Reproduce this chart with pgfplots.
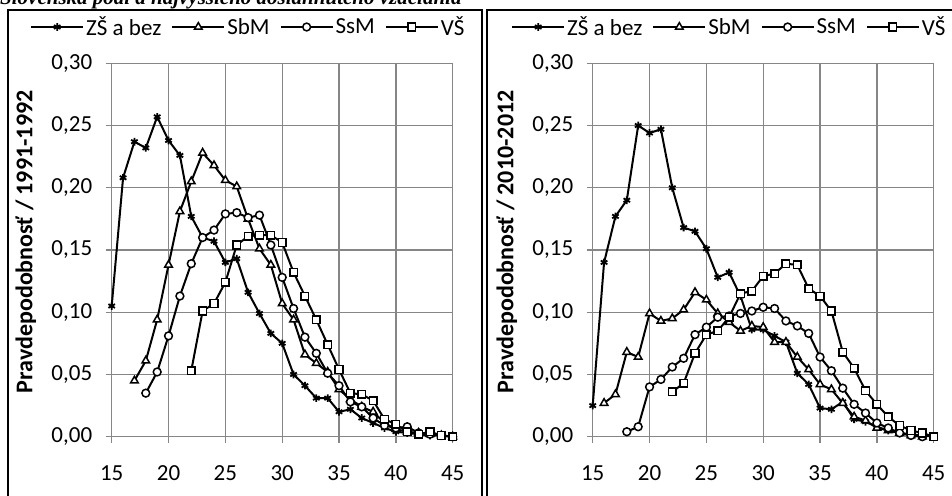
\documentclass[border=0pt]{standalone}
\usepackage{fontspec}
\setmainfont{Carlito}
\newfontfamily\titlefont{Liberation Serif}
\usepackage{pgfplots}
\pgfplotsset{compat=1.18}
\definecolor{gridc}{RGB}{134,134,134}
\pgfplotsset{
  panel/.style={
    scale only axis, width=341pt, height=373.4pt,
    xmin=15, xmax=45, ymin=0, ymax=0.3,
    xtick={15,20,25,30,35,40,45},
    ytick={0,0.05,0.1,0.15,0.2,0.25,0.3},
    clip=false,
    grid=major, major grid style={gridc, line width=1.3pt},
    axis x line*=bottom, axis y line*=left,
    axis line style={gridc, line width=1.3pt},
    tick style={gridc, line width=1.3pt},
    tick align=outside, major tick length=6pt,
    /pgf/number format/assume math mode=true,
    yticklabel style={/pgf/number format/.cd, use comma, fixed, fixed zerofill, precision=2, /tikz/.cd, font=\fontsize{23}{25}\selectfont, xshift=-10pt},
    xticklabel style={font=\fontsize{23}{25}\selectfont, yshift=-19pt},
    ylabel style={font=\bfseries\fontsize{24}{26}\selectfont, at={(axis description cs:-0.252,0.522)}, anchor=center},
    legend style={draw=none, fill=none, legend columns=4, at={(axis description cs:-0.2396,1.0972)}, anchor=west, inner sep=0pt, font=\fontsize{23}{25}\selectfont, /tikz/every even column/.append style={column sep=8pt}},
    legend image code/.code={\draw[mark repeat=2,mark phase=2,#1] plot coordinates {(0pt,0pt) (26pt,0pt) (52pt,0pt)};},
  },
  zs/.style={black, line width=2pt, mark=asterisk, mark size=3.8pt, mark options={solid, line width=1.8pt}},
  sb/.style={black, line width=2pt, mark=triangle*, mark size=4.4pt, mark options={solid, fill=white, line width=1.5pt}},
  ss/.style={black, line width=2pt, mark=*, mark size=3.9pt, mark options={solid, fill=white, line width=1.5pt}},
  vs/.style={black, line width=2pt, mark=square*, mark size=3.8pt, mark options={solid, fill=white, line width=1.5pt}},
}
\begin{document}
\begin{tikzpicture}
\useasboundingbox (0,0) rectangle (952pt,495pt);
\node[anchor=base west, inner sep=0pt] at (0pt,490pt) {\titlefont\bfseries\itshape\fontsize{21}{24}\selectfont Slovenská podľa najvyššieho dosiahnutého vzdelania};
\draw[line width=2pt] (8pt,-10pt) -- (8pt,485pt) -- (482pt,485pt) -- (482pt,-10pt);
\draw[line width=2pt] (487pt,-10pt) -- (487pt,485pt) -- (960pt,485pt);

\begin{axis}[panel, at={(111.7pt,58.3pt)}, anchor=south west, ylabel={Pravdepodobnosť / 1991-1992}]
\addplot[zs] coordinates {(15,0.105)(16,0.208)(17,0.237)(18,0.232)(19,0.257)(20,0.238)(21,0.226)(22,0.177)(23,0.160)(24,0.157)(25,0.140)(26,0.143)(27,0.116)(28,0.099)(29,0.083)(30,0.075)(31,0.050)(32,0.041)(33,0.031)(34,0.031)(35,0.020)(36,0.022)(37,0.015)(38,0.011)(39,0.007)(40,0.004)(41,0.003)(42,0.002)(43,0.001)(44,0.001)(45,0.000)};
\addlegendentry{ZŠ a bez}
\addplot[sb] coordinates {(17,0.045)(18,0.061)(19,0.094)(20,0.138)(21,0.181)(22,0.205)(23,0.228)(24,0.218)(25,0.206)(26,0.201)(27,0.175)(28,0.151)(29,0.138)(30,0.107)(31,0.094)(32,0.066)(33,0.059)(34,0.052)(35,0.038)(36,0.030)(37,0.024)(38,0.020)(39,0.011)(40,0.006)(41,0.004)(42,0.003)(43,0.002)(44,0.001)(45,0.000)};
\addlegendentry{SbM}
\addplot[ss] coordinates {(18,0.035)(19,0.052)(20,0.081)(21,0.113)(22,0.139)(23,0.160)(24,0.166)(25,0.179)(26,0.180)(27,0.176)(28,0.178)(29,0.154)(30,0.128)(31,0.103)(32,0.080)(33,0.067)(34,0.051)(35,0.041)(36,0.028)(37,0.024)(38,0.015)(39,0.009)(40,0.007)(41,0.008)(42,0.003)(43,0.002)(44,0.001)(45,0.000)};
\addlegendentry{SsM}
\addplot[vs] coordinates {(22,0.053)(23,0.101)(24,0.107)(25,0.124)(26,0.154)(27,0.161)(28,0.162)(29,0.162)(30,0.156)(31,0.132)(32,0.113)(33,0.094)(34,0.074)(35,0.054)(36,0.035)(37,0.034)(38,0.029)(39,0.014)(40,0.010)(41,0.004)(42,0.002)(43,0.004)(44,0.001)(45,0.000)};
\addlegendentry{VŠ}
\end{axis}

\begin{axis}[panel, at={(592.7pt,58.3pt)}, anchor=south west, ylabel={Pravdepodobnosť / 2010-2012}]
\addplot[zs] coordinates {(15,0.025)(16,0.140)(17,0.177)(18,0.190)(19,0.250)(20,0.244)(21,0.247)(22,0.200)(23,0.168)(24,0.165)(25,0.151)(26,0.128)(27,0.132)(28,0.113)(29,0.086)(30,0.086)(31,0.081)(32,0.076)(33,0.051)(34,0.042)(35,0.023)(36,0.022)(37,0.028)(38,0.014)(39,0.012)(40,0.008)(41,0.005)(42,0.003)(43,0.002)(44,0.001)(45,0.000)};
\addlegendentry{ZŠ a bez}
\addplot[sb] coordinates {(16,0.027)(17,0.034)(18,0.068)(19,0.064)(20,0.099)(21,0.093)(22,0.095)(23,0.102)(24,0.116)(25,0.110)(26,0.099)(27,0.092)(28,0.085)(29,0.089)(30,0.088)(31,0.076)(32,0.076)(33,0.064)(34,0.054)(35,0.042)(36,0.038)(37,0.027)(38,0.016)(39,0.013)(40,0.007)(41,0.005)(42,0.003)(43,0.001)(44,0.000)};
\addlegendentry{SbM}
\addplot[ss] coordinates {(18,0.004)(19,0.008)(20,0.040)(21,0.046)(22,0.056)(23,0.063)(24,0.082)(25,0.088)(26,0.096)(27,0.097)(28,0.099)(29,0.101)(30,0.104)(31,0.103)(32,0.093)(33,0.089)(34,0.083)(35,0.064)(36,0.053)(37,0.039)(38,0.026)(39,0.019)(40,0.011)(41,0.007)(42,0.003)(43,0.001)(44,0.000)};
\addlegendentry{SsM}
\addplot[vs] coordinates {(22,0.036)(23,0.043)(24,0.067)(25,0.082)(26,0.085)(27,0.096)(28,0.115)(29,0.117)(30,0.129)(31,0.131)(32,0.139)(33,0.138)(34,0.119)(35,0.113)(36,0.101)(37,0.068)(38,0.055)(39,0.037)(40,0.026)(41,0.016)(42,0.009)(43,0.005)(44,0.003)(45,0.000)};
\addlegendentry{VŠ}
\end{axis}
\end{tikzpicture}
\end{document}
